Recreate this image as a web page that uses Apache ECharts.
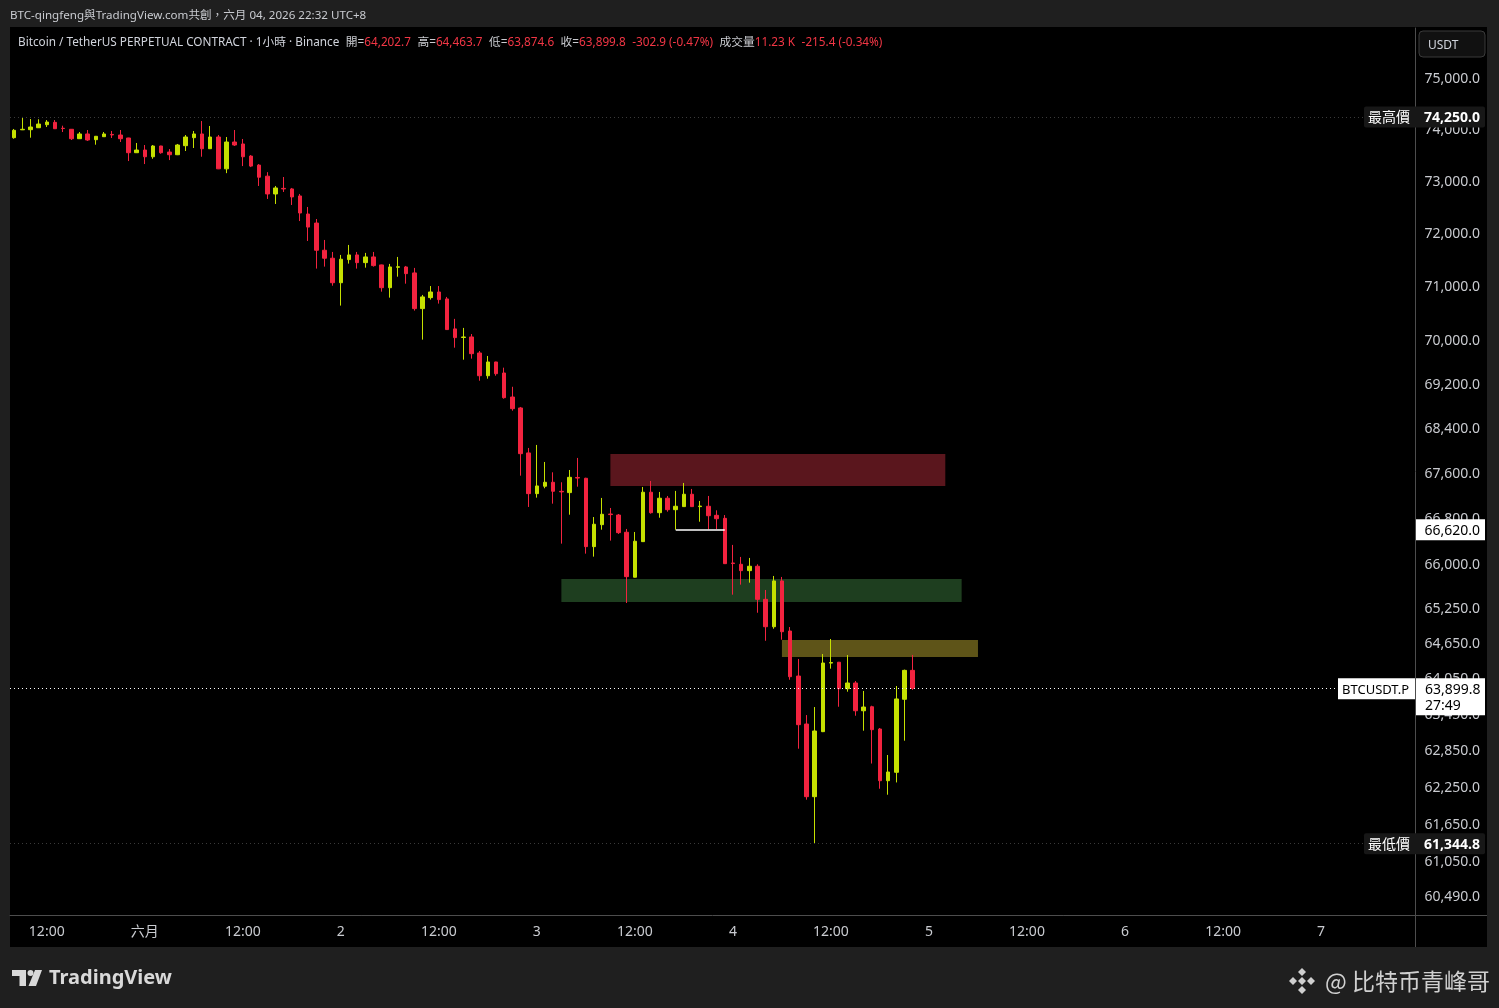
<!DOCTYPE html>
<html><head><meta charset="utf-8">
<script src="https://cdn.jsdelivr.net/npm/echarts@6/dist/echarts.min.js"></script>
<style>html,body{margin:0;padding:0;background:#1f1f1f;overflow:hidden}#c{width:1499px;height:1008px;}</style>
</head><body><div id="c"></div>
<script>
// ---- data (hourly candles, 2026-05-31 08:00 .. 06-04 22:00) ----
const openP = [73847,74000,74002,74040,74099,74145,74030,74010,73827,73919,73808,73866,73910,73899,73841,73556,73608,73478,73686,73569,73517,73692,73847,73919,73633,73860,73245,73763,73725,73491,73317,73104,72763,72870,72859,72725,72381,72209,71695,71545,71086,71519,71607,71462,71569,71419,70993,71375,71381,71269,70604,70808,70913,70784,70229,70070,70080,69786,69370,69621,69420,68983,68785,67977,67254,67385,67455,67295,67272,67540,67526,66324,66708,66895,66877,66575,65793,66411,67279,66918,67173,66971,67025,67243,67025,67031,66872,66819,66040,66017,65907,65983,65412,64943,65729,64870,64107,63304,62107,63177,64325,64340,63894,63990,63525,63592,63221,62368,62506,63717,64202.7];
const closeP = [73990,74010,74054,74112,74151,74021,74025,73827,73919,73802,73874,73919,73900,73827,73556,73608,73478,73686,73556,73517,73705,73860,73919,73633,73860,73245,73763,73705,73478,73298,73084,72763,72878,72860,72706,72400,72133,71695,71545,71086,71526,71607,71462,71569,71406,70993,71381,71385,71256,70604,70821,70913,70771,70216,70068,70080,69773,69370,69621,69407,68971,68772,67964,67254,67390,67455,67296,67285,67543,67530,66324,66715,66890,66885,66568,65803,66418,67279,66918,67173,66971,67031,67243,67025,67035,66865,66812,66028,66030,65907,65983,65412,64943,65729,64858,64096,63293,62107,63188,64327,64335,63894,63990,63525,63587,63210,62368,62511,63722,64202.7,63899.8];
const lowP = [73827,73995,73847,74035,74054,74015,73957,73802,73825,73783,73711,73860,73841,73763,73395,73550,73337,73439,73536,73414,73510,73589,73647,73478,73630,73240,73162,73686,73298,73279,72916,72668,72572,72801,72553,72247,71870,71350,71387,71030,70660,71444,71350,71368,71387,70919,70808,71199,71068,70567,70031,70771,70697,70210,69883,69663,69682,69279,69316,69370,68953,68736,67572,67019,67183,67349,67077,66376,66883,67377,66202,66150,66620,66429,66546,65349,65790,66405,66901,66830,66936,66620,67020,67020,66760,66625,66630,66025,65492,65665,65699,65182,64704,64909,64722,64045,62895,62058,61344.8,63170,64231,63592,63844,63442,63193,62650,62237,62139,62340,63027,63874.6];
const highP = [74016,74250,74210,74205,74190,74190,74080,74015,73957,73996,73880,73957,73977,73996,73845,73744,73705,73705,73690,73627,73725,73899,73977,74171,74074,73899,73860,73996,73822,73510,73337,73181,72916,73088,72878,72763,72515,72286,71889,71663,71607,71795,71663,71645,71663,71425,71438,71569,71400,71363,70858,71024,71024,70821,70414,70247,70134,69822,69731,69625,69517,69169,68803,68066,68120,67816,67632,67455,67673,67888,67535,66842,67178,67001,66895,66633,66580,67372,67478,67284,67213,67302,67443,67337,67125,67213,66960,66877,66354,66145,66127,66017,65573,65815,65798,64938,64395,63453,63587,64479,64734,64345,64462,64023,63856,63609,63238,62791,63939,64215,64463.7];

const yTicks = [75000,74000,73000,72000,71000,70000,69200,68400,67600,66800,66000,65250,64650,64050,63450,62850,62250,61650,61050,60490];
const xTickLabels = ['12:00','六月','12:00','2','12:00','3','12:00','4','12:00','5','12:00','6','12:00','7'];
const startHour = 8, slotCount = 172;

const zoneRed   = {from: 73, to: 114, top: 67959, bottom: 67390};
const zoneGreen = {from: 67, to: 116, top: 65763, bottom: 65366};
const zoneOlive = {from: 94, to: 118, top: 64716, bottom: 64429};
const lowMark = {from: 81, to: 87, price: 66620};
const maxPrice = 74250, minPrice = 61344.8;
const lastPrice = closeP[closeP.length - 1];
const volumeText = '11.23 K', volChange = '-215.4 (-0.34%)', countdown = '27:49';

// ---- build ----
const cats = [], tickMap = {};
let t = 0;
for (let i = 0; i < slotCount; i++) {
  const h = (startHour + i) % 24, d = Math.floor((startHour + i) / 24);
  cats.push('d' + d + 'h' + h);
  if (h === 0 || h === 12) { if (t < xTickLabels.length) tickMap[i] = xTickLabels[t++]; }
}
const candles = openP.map((o, i) => [o, closeP[i], lowP[i], highP[i]]);
const fmt = v => Number(v).toLocaleString('en-US', {minimumFractionDigits: 1, maximumFractionDigits: 1});

const FONT = '"Noto Sans", "Noto Sans CJK TC", sans-serif';
const UP = '#c5e000', DOWN = '#f2233f';
const AXIS = '#4d4d4d', LABEL = '#c9cbd0';
const TY = 1.5; // small vertical text adjustment

const chart = echarts.init(document.getElementById('c'), null, {renderer: 'canvas'});
const option = {
  backgroundColor: '#1f1f1f',
  animation: false,
  grid: {left: 10, right: 84, top: 28, bottom: 93},
  xAxis: {
    type: 'category', data: cats, boundaryGap: true,
    axisLine: {show: true, lineStyle: {color: AXIS, width: 1}},
    axisTick: {show: false}, splitLine: {show: false},
    axisLabel: {
      interval: i => tickMap[i] !== undefined,
      formatter: (v, i) => tickMap[i] || '',
      color: LABEL, fontSize: 14, margin: 10, fontFamily: FONT, hideOverlap: false
    }
  },
  yAxis: {
    type: 'log', logBase: 10, position: 'right', min: 60206, max: 76006,
    axisLine: {show: true, lineStyle: {color: AXIS, width: 1}},
    axisTick: {show: false}, splitLine: {show: false}, minorSplitLine: {show: false},
    axisLabel: {customValues: yTicks, formatter: v => fmt(v), align: 'right', margin: 65,
      color: LABEL, fontSize: 14, fontFamily: FONT, hideOverlap: false, padding: [1, 0, 0, 0]}
  },
  series: [{
    type: 'candlestick', data: candles, barWidth: 4,
    itemStyle: {color: UP, color0: DOWN, borderColor: UP, borderColor0: DOWN, borderWidth: 1},
    emphasis: {disabled: true},
    markArea: {
      silent: true, z: 1,
      data: [
        [{xAxis: cats[zoneRed.from], yAxis: zoneRed.top, itemStyle: {color: '#5a161d'}}, {xAxis: cats[zoneRed.to], yAxis: zoneRed.bottom}],
        [{xAxis: cats[zoneGreen.from], yAxis: zoneGreen.top, itemStyle: {color: '#1e3e1f'}}, {xAxis: cats[zoneGreen.to], yAxis: zoneGreen.bottom}],
        [{xAxis: cats[zoneOlive.from], yAxis: zoneOlive.top, itemStyle: {color: '#5e5418'}}, {xAxis: cats[zoneOlive.to], yAxis: zoneOlive.bottom}]
      ]
    },
    markLine: {
      silent: true, symbol: ['none', 'none'], label: {show: false},
      data: [
        {yAxis: lastPrice, lineStyle: {color: '#ffffff', type: [1, 3], width: 1}},
        {yAxis: maxPrice, lineStyle: {color: '#3a3a3a', type: [1, 3], width: 1}},
        {yAxis: minPrice, lineStyle: {color: '#3a3a3a', type: [1, 3], width: 1}},
        [{coord: [cats[lowMark.from], lowMark.price], lineStyle: {color: '#ffffff', type: 'solid', width: 1.5}},
         {coord: [cats[lowMark.to], lowMark.price]}]
      ]
    }
  }]
};
chart.setOption(option);

const yp = v => chart.convertToPixel({yAxisIndex: 0}, v);
const yHi = yp(maxPrice), yLo = yp(minPrice), yLast = yp(lastPrice), yMark = yp(lowMark.price);

const last = openP.length - 1;
const chg = lastPrice - openP[last];
const legendText =
  '{w|Bitcoin / TetherUS PERPETUAL CONTRACT · 1小時 · Binance}{s| }' +
  '{g|開=}{r|' + fmt(openP[last]) + '}{s| }' +
  '{g|高=}{r|' + fmt(highP[last]) + '}{s| }' +
  '{g|低=}{r|' + fmt(lowP[last]) + '}{s| }' +
  '{g|收=}{r|' + fmt(lastPrice) + '}{s| }' +
  '{r|' + fmt(chg) + ' (' + (chg / openP[last] * 100).toFixed(2) + '%)}{s| }' +
  '{g|成交量}{r|' + volumeText + '}{s| }{r|' + volChange + '}';
const LF = '11.75px ' + FONT;

const g = [
  {type: 'rect', z: -10, shape: {x: 10, y: 27, width: 1477, height: 920}, style: {fill: '#000000'}, silent: true},
  {type: 'line', z: 50, shape: {x1: 1415.5, y1: 915, x2: 1415.5, y2: 947}, style: {stroke: AXIS, lineWidth: 1}, silent: true},
  {type: 'line', z: 50, shape: {x1: 1415, y1: 915.5, x2: 1487, y2: 915.5}, style: {stroke: AXIS, lineWidth: 1}, silent: true},
  {type: 'text', z: 50, x: 10, y: 15.5, style: {text: 'BTC-qingfeng與TradingView.com共創，六月 04, 2026 22:32 UTC+8', fill: '#c9cbd0', font: '11.6px ' + FONT, verticalAlign: 'middle'}, silent: true},
  {type: 'text', z: 50, x: 18, y: 43, style: {text: legendText, fill: '#d1d4dc', font: LF, verticalAlign: 'middle',
    rich: {w: {fill: '#d1d4dc', font: LF}, g: {fill: '#c9cbd0', font: LF}, r: {fill: '#f23645', font: LF}, s: {width: 6.5, font: LF}}}, silent: true},
  // USDT box
  {type: 'rect', z: 50, shape: {x: 1419, y: 31, width: 66, height: 26, r: 4}, style: {fill: '#111111', stroke: '#3a3a3a', lineWidth: 1}, silent: true},
  {type: 'text', z: 51, x: 1428, y: 44 + TY, style: {text: 'USDT', fill: '#d1d4dc', font: '12px ' + FONT, verticalAlign: 'middle'}, silent: true},
  // max label
  {type: 'rect', z: 60, shape: {x: 1364, y: yHi - 10.5, width: 121, height: 21, r: 2}, style: {fill: '#171717'}, silent: true},
  {type: 'text', z: 61, x: 1410, y: yHi, style: {text: '最高價', fill: '#ffffff', font: '14px "Noto Sans CJK TC", sans-serif', align: 'right', verticalAlign: 'middle'}, silent: true},
  {type: 'text', z: 61, x: 1480, y: yHi + 1, style: {text: fmt(maxPrice), fill: '#ffffff', font: 'bold 14px ' + FONT, align: 'right', verticalAlign: 'middle'}, silent: true},
  // min label
  {type: 'rect', z: 60, shape: {x: 1364, y: yLo - 10.5, width: 121, height: 21, r: 2}, style: {fill: '#171717'}, silent: true},
  {type: 'text', z: 61, x: 1410, y: yLo, style: {text: '最低價', fill: '#ffffff', font: '14px "Noto Sans CJK TC", sans-serif', align: 'right', verticalAlign: 'middle'}, silent: true},
  {type: 'text', z: 61, x: 1480, y: yLo + 1, style: {text: fmt(minPrice), fill: '#ffffff', font: 'bold 14px ' + FONT, align: 'right', verticalAlign: 'middle'}, silent: true},
  // 66,620 label
  {type: 'rect', z: 60, shape: {x: 1416, y: yMark - 10.5, width: 69, height: 21}, style: {fill: '#ffffff'}, silent: true},
  {type: 'text', z: 61, x: 1480, y: yMark + TY, style: {text: fmt(lowMark.price), fill: '#000000', font: '14px ' + FONT, align: 'right', verticalAlign: 'middle'}, silent: true},
  // last price labels
  {type: 'rect', z: 60, shape: {x: 1338, y: yLast - 10, width: 77, height: 21}, style: {fill: '#ffffff'}, silent: true},
  {type: 'text', z: 61, x: 1342, y: yLast + 0.5 + TY, style: {text: 'BTCUSDT.P', fill: '#000000', font: '13px ' + FONT, verticalAlign: 'middle'}, silent: true},
  {type: 'rect', z: 60, shape: {x: 1416, y: yLast - 10, width: 69, height: 37}, style: {fill: '#ffffff'}, silent: true},
  {type: 'text', z: 61, x: 1425, y: yLast + TY, style: {text: fmt(lastPrice), fill: '#000000', font: '14px ' + FONT, verticalAlign: 'middle'}, silent: true},
  {type: 'text', z: 61, x: 1425, y: yLast + 16 + TY, style: {text: countdown, fill: '#000000', font: '14px ' + FONT, verticalAlign: 'middle'}, silent: true},
  // footer: TradingView logo
  {type: 'polygon', z: 50, shape: {points: [[12,970],[26,970],[26,986],[19.5,986],[19.5,976],[12,976]]}, style: {fill: '#d9d9d9'}, silent: true},
  {type: 'circle', z: 50, shape: {cx: 30.5, cy: 973, r: 3}, style: {fill: '#d9d9d9'}, silent: true},
  {type: 'polygon', z: 50, shape: {points: [[35,970],[42,970],[36,986],[28.5,986]]}, style: {fill: '#d9d9d9'}, silent: true},
  {type: 'text', z: 50, x: 49, y: 978, style: {text: 'TradingView', fill: '#d9d9d9', font: 'bold 20px ' + FONT, verticalAlign: 'middle'}, silent: true},
  // footer right watermark
  {type: 'polygon', z: 50, shape: {points: [[1302,968],[1306,972],[1302,976],[1298,972]]}, style: {fill: '#cfcfcf'}, silent: true},
  {type: 'polygon', z: 50, shape: {points: [[1302,986],[1306,990],[1302,994],[1298,990]]}, style: {fill: '#cfcfcf'}, silent: true},
  {type: 'polygon', z: 50, shape: {points: [[1293,977],[1297,981],[1293,985],[1289,981]]}, style: {fill: '#cfcfcf'}, silent: true},
  {type: 'polygon', z: 50, shape: {points: [[1311,977],[1315,981],[1311,985],[1307,981]]}, style: {fill: '#cfcfcf'}, silent: true},
  {type: 'polygon', z: 50, shape: {points: [[1302,977],[1306,981],[1302,985],[1298,981]]}, style: {fill: '#cfcfcf'}, silent: true},
  {type: 'text', z: 50, x: 1490, y: 981, style: {text: '@ 比特币青峰哥', fill: '#d0d0d0', font: '23px "Noto Sans CJK SC", sans-serif', align: 'right', verticalAlign: 'middle'}, silent: true}
];
chart.setOption({graphic: g});
</script>
</body></html>
